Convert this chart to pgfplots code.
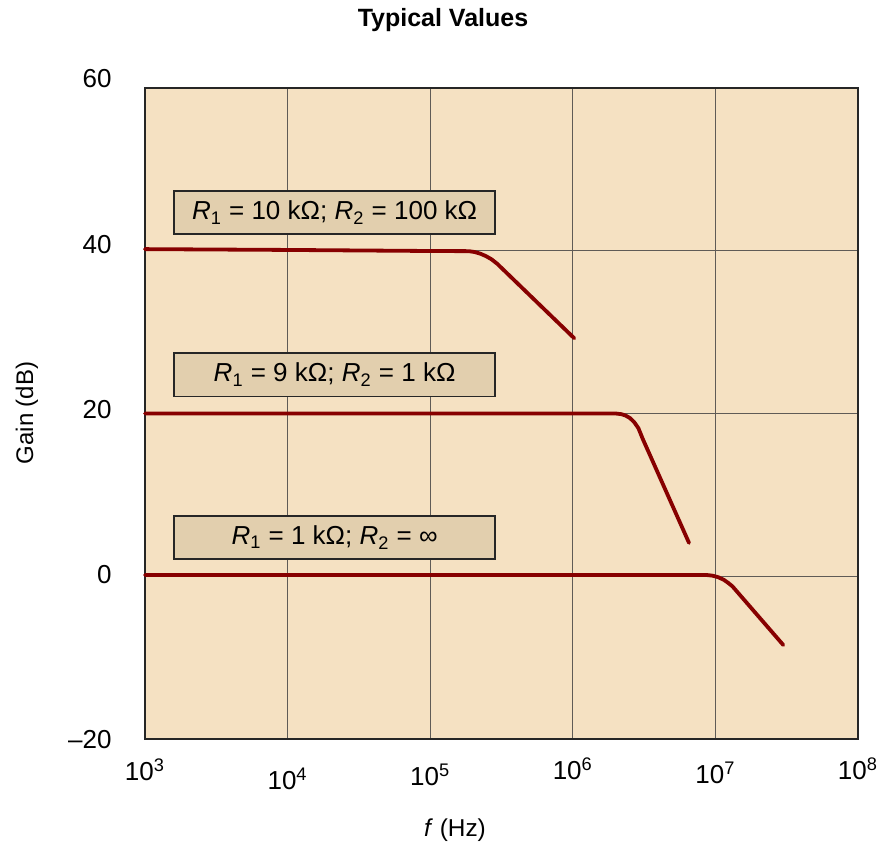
\documentclass[border=0pt]{standalone}
\usepackage{fontspec}
\setmainfont{Liberation Sans}
\usepackage{pgfplots}
\pgfplotsset{compat=1.18}
\definecolor{bg}{HTML}{F5E1C2}
\definecolor{boxfill}{HTML}{E2CFAE}
\definecolor{curve}{HTML}{870000}
\definecolor{gridc}{HTML}{5F5B56}
\pgfplotstableread{
x y
3.0 40.2
4.0 40.1
5.0 39.97
5.27 39.95
5.31 39.85
5.35 39.65
5.39 39.35
5.43 38.95
5.47 38.4
6.01 29.25
}\curveA
\pgfplotstableread{
x y
3.0 20.0
6.0 20.0
6.30 20.0
6.34 19.92
6.37 19.75
6.40 19.45
6.43 18.95
6.46 18.2
6.49 16.9
6.815 4.1
}\curveB
\pgfplotstableread{
x y
3.0 0.15
6.94 0.15
6.98 0.07
7.02 -0.12
7.06 -0.45
7.09 -0.82
7.12 -1.25
7.476 -8.45
}\curveC
\begin{document}
\begin{tikzpicture}
\useasboundingbox (-72.5pt,-55.5pt) rectangle (367.5pt,369.5pt);
\begin{axis}[
  at={(0,0)}, anchor=south west,
  scale only axis, width=356.5pt, height=325.5pt,
  xmin=3, xmax=8, ymin=-20, ymax=60,
  xtick={3,4,5,6,7,8}, ytick={-20,0,20,40,60},
  xticklabels={}, yticklabels={},
  grid=major, major grid style={gridc, line width=0.5pt},
  axis background/.style={fill=bg},
  axis line style={black!85, line width=0.9pt},
  tick style={draw=none},
  clip=false,
]
\addplot[curve, line width=1.9pt, line join=round, line cap=round] table[x=x,y=y] {\curveA};
\addplot[curve, line width=1.9pt, line join=round, line cap=round] table[x=x,y=y] {\curveB};
\addplot[curve, line width=1.9pt, line join=round, line cap=round] table[x=x,y=y] {\curveC};
\end{axis}
% boxes
\begin{scope}[every node/.style={draw=black!85, line width=0.9pt, fill=boxfill, minimum width=160.4pt, minimum height=21.7pt, inner sep=0pt, font=\fontsize{13}{15}\selectfont}]
\node at (94.8pt,263.2pt) {\textit{R}\textsubscript{1} = 10 k\char"03A9; \textit{R}\textsubscript{2} = 100 k\char"03A9};
\node at (94.8pt,182.1pt) {\textit{R}\textsubscript{1} = 9 k\char"03A9; \textit{R}\textsubscript{2} = 1 k\char"03A9};
\node at (94.8pt,100.8pt) {\textit{R}\textsubscript{1} = 1 k\char"03A9; \textit{R}\textsubscript{2} = \char"221E};
\end{scope}
% tick labels
\begin{scope}[every node/.style={font=\fontsize{13}{15}\selectfont, inner sep=0pt}]
\node[anchor=east] at (-16.5pt,330pt) {60};
\node[anchor=east] at (-16.5pt,247.4pt) {40};
\node[anchor=east] at (-16.5pt,164.5pt) {20};
\node[anchor=east] at (-16.5pt,82pt) {0};
\node[anchor=east] at (-16.5pt,-0.5pt) {\textendash20};
\node at (0pt,-15.5pt) {10\textsuperscript{3}};
\node at (71.3pt,-20pt) {10\textsuperscript{4}};
\node at (142.6pt,-18pt) {10\textsuperscript{5}};
\node at (213.9pt,-15pt) {10\textsuperscript{6}};
\node at (285.2pt,-17pt) {10\textsuperscript{7}};
\node at (356.5pt,-15pt) {10\textsuperscript{8}};
\end{scope}
\node[font=\bfseries\fontsize{12.5}{14}\selectfont] at (149pt,359.5pt) {Typical Values};
\node[font=\fontsize{12}{14}\selectfont, rotate=90] at (-59pt,163pt) {Gain (dB)};
\node[font=\fontsize{12.2}{14}\selectfont] at (155pt,-45.5pt) {\textit{f} (Hz)};
\end{tikzpicture}
\end{document}
